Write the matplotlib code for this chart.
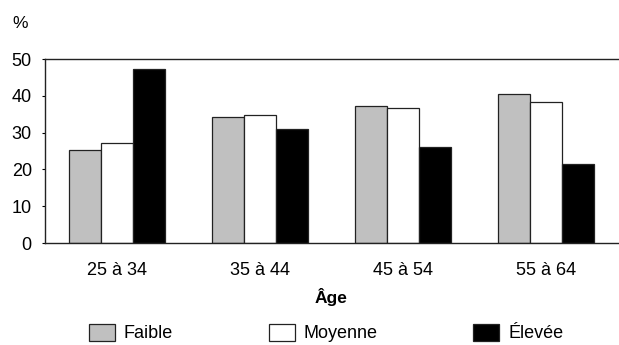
import numpy as np
import matplotlib.pyplot as plt

plt.rcParams['font.family'] = ['Liberation Sans', 'DejaVu Sans']

ages = ['25 à 34', '35 à 44', '45 à 54', '55 à 64']
series = ['Faible', 'Moyenne', 'Élevée']
faible = [25.2, 34.2, 37.1, 40.4]
moyenne = [27.3, 34.9, 36.6, 38.2]
elevee = [47.4, 31.0, 26.0, 21.5]
colors = ['#c0c0c0', '#ffffff', '#000000']

fig = plt.figure(figsize=(6.19, 3.45), dpi=100)
ax = fig.add_axes([45 / 619, 1 - 243 / 345, 573 / 619, (243 - 59) / 345])

x = np.arange(len(ages))
width = 0.223
for i, (vals, c, name) in enumerate(zip([faible, moyenne, elevee], colors, series)):
    ax.bar(x + (i - 1) * width, vals, width, color=c, edgecolor='#222222',
           linewidth=0.9, label=name)

ax.set_xlim(-0.5, 3.5)
ax.set_ylim(0, 50)
ax.set_yticks(range(0, 51, 10))
ax.set_xticks(x)
ax.set_xticklabels(ages, fontsize=13)
ax.tick_params(axis='x', length=0, pad=14)
ax.tick_params(axis='y', labelsize=13, length=2.5, width=0.8, direction='out', pad=7)
ax.spines['right'].set_visible(False)
for s in ['left', 'bottom', 'top']:
    ax.spines[s].set_linewidth(1.0)
    ax.spines[s].set_color('#222222')
ax.set_xlabel('Âge', fontsize=12.5, fontweight='bold', labelpad=6)

fig.text(12 / 619, 1 - 23 / 345, '%', fontsize=12.5, va='center', ha='left')

fig.legend(loc='center', bbox_to_anchor=(326 / 619, 1 - 333 / 345), ncol=3,
           frameon=False, fontsize=13, handlelength=1.44, handleheight=1.1,
           handletextpad=0.5, columnspacing=5.3)

fig.savefig('out.png', dpi=100)
